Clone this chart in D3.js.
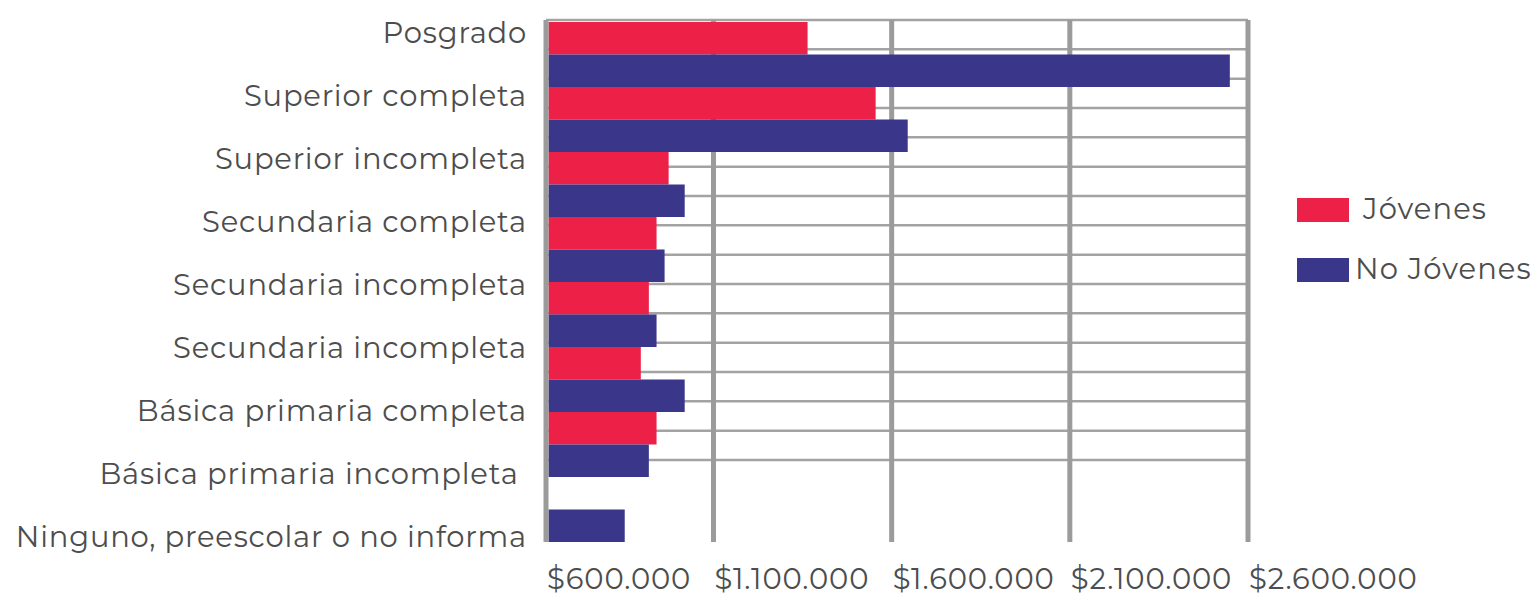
<!DOCTYPE html>
<html>
<head>
<meta charset="utf-8">
<script src="https://cdn.jsdelivr.net/npm/d3@7"></script>
<style>
  body { margin: 0; background: #fff; }
  text { font-family: "Montserrat", "DejaVu Sans", sans-serif; fill: #4d4d4d; white-space: pre; }
</style>
</head>
<body>
<div id="chart"></div>
<script>
// labels as printed on the y axis (9 rows of text)
const axisLabels = ["Posgrado", "Superior completa", "Superior incompleta", "Secundaria completa",
  "Secundaria incompleta", "Secundaria incompleta", "Básica primaria completa",
  "Básica primaria incompleta ", "Ninguno, preescolar o no informa"];

// bar groups (8 pairs of bars drawn in the picture)
const groups = ["g1", "g2", "g3", "g4", "g5", "g6", "g7", "g8"];
const jovenes   = [1364000, 1555000, 966000, 930000, 907000, 883000, 930000, null];
const noJovenes = [2549000, 1645000, 1014000, 954000, 930000, 1014000, 907000, 835000];

const series = ["Jóvenes", "No Jóvenes"];
const colors = ["#ed2047", "#3a378b"];
const xTicks = [600000, 1100000, 1600000, 2100000, 2600000];
const xTickLabels = ["$600.000", "$1.100.000", "$1.600.000", "$2.100.000", "$2.600.000"];

const W = 1535, H = 598;
const svg = d3.select("#chart").append("svg")
    .attr("width", W).attr("height", H);

// x axis is uneven in the original: first step shorter than the rest
const x = d3.scaleLinear()
    .domain([600000, 1100000, 2600000])
    .range([546, 713.5, 1248]);

const yTop = 20, yBottom = 542;

const y = d3.scaleBand()
    .domain(groups)
    .range([22, 542]);
const ySub = d3.scaleBand()
    .domain(series)
    .range([0, y.bandwidth()]);

// horizontal grid (16 thin lines)
const hGrid = d3.scaleLinear().domain([0, 15]).range([yTop, 460]);
svg.append("g").selectAll("line")
    .data(d3.range(16))
    .join("line")
    .attr("x1", x(600000)).attr("x2", x(2600000))
    .attr("y1", d => hGrid(d)).attr("y2", d => hGrid(d))
    .attr("stroke", "#a3a3a3")
    .attr("stroke-width", 2.5);

// vertical grid
svg.append("g").selectAll("line")
    .data(xTicks.slice(1))
    .join("line")
    .attr("x1", d => x(d)).attr("x2", d => x(d))
    .attr("y1", yTop).attr("y2", yBottom)
    .attr("stroke", "#9b9b9b")
    .attr("stroke-width", 5);

// bars
const rows = groups.map((g, i) => ({g: g, vals: [jovenes[i], noJovenes[i]]}));
const barG = svg.append("g").selectAll("g")
    .data(rows)
    .join("g")
    .attr("transform", d => `translate(0,${y(d.g)})`);

barG.selectAll("rect")
    .data(d => d.vals.map((v, j) => ({s: series[j], v: v, c: colors[j]})).filter(e => e.v != null))
    .join("rect")
    .attr("x", x(600000) + 2.5)
    .attr("y", d => ySub(d.s))
    .attr("width", d => x(d.v) - x(600000) - 2.5)
    .attr("height", ySub.bandwidth())
    .attr("fill", d => d.c);

// left axis line
svg.append("line")
    .attr("x1", x(600000)).attr("x2", x(600000))
    .attr("y1", yTop).attr("y2", yBottom)
    .attr("stroke", "#9b9b9b")
    .attr("stroke-width", 5);

// y labels
const yLab = d3.scalePoint()
    .domain(d3.range(axisLabels.length))
    .range([43, 547]);
svg.append("g").selectAll("text")
    .data(axisLabels)
    .join("text")
    .attr("x", 527)
    .attr("y", (d, i) => yLab(i))
    .attr("text-anchor", "end")
    .style("font-size", "29px")
    .style("letter-spacing", "0.8px")
    .text(d => d);

// x tick labels
svg.append("g").selectAll("text")
    .data(xTicks)
    .join("text")
    .attr("x", d => x(d) + 1)
    .attr("y", 589)
    .style("font-size", "29px")
    .style("letter-spacing", "0.9px")
    .text((d, i) => xTickLabels[i]);

// legend
const leg = svg.append("g").selectAll("g")
    .data(series)
    .join("g")
    .attr("transform", (d, i) => `translate(1297,${198 + i * 60})`);
leg.append("rect")
    .attr("width", 52).attr("height", 24)
    .attr("fill", (d, i) => colors[i]);
leg.append("text")
    .attr("x", (d, i) => i === 0 ? 66 : 58)
    .attr("y", 21)
    .style("font-size", "29px")
    .style("letter-spacing", "1.1px")
    .text(d => d);
</script>
</body>
</html>
